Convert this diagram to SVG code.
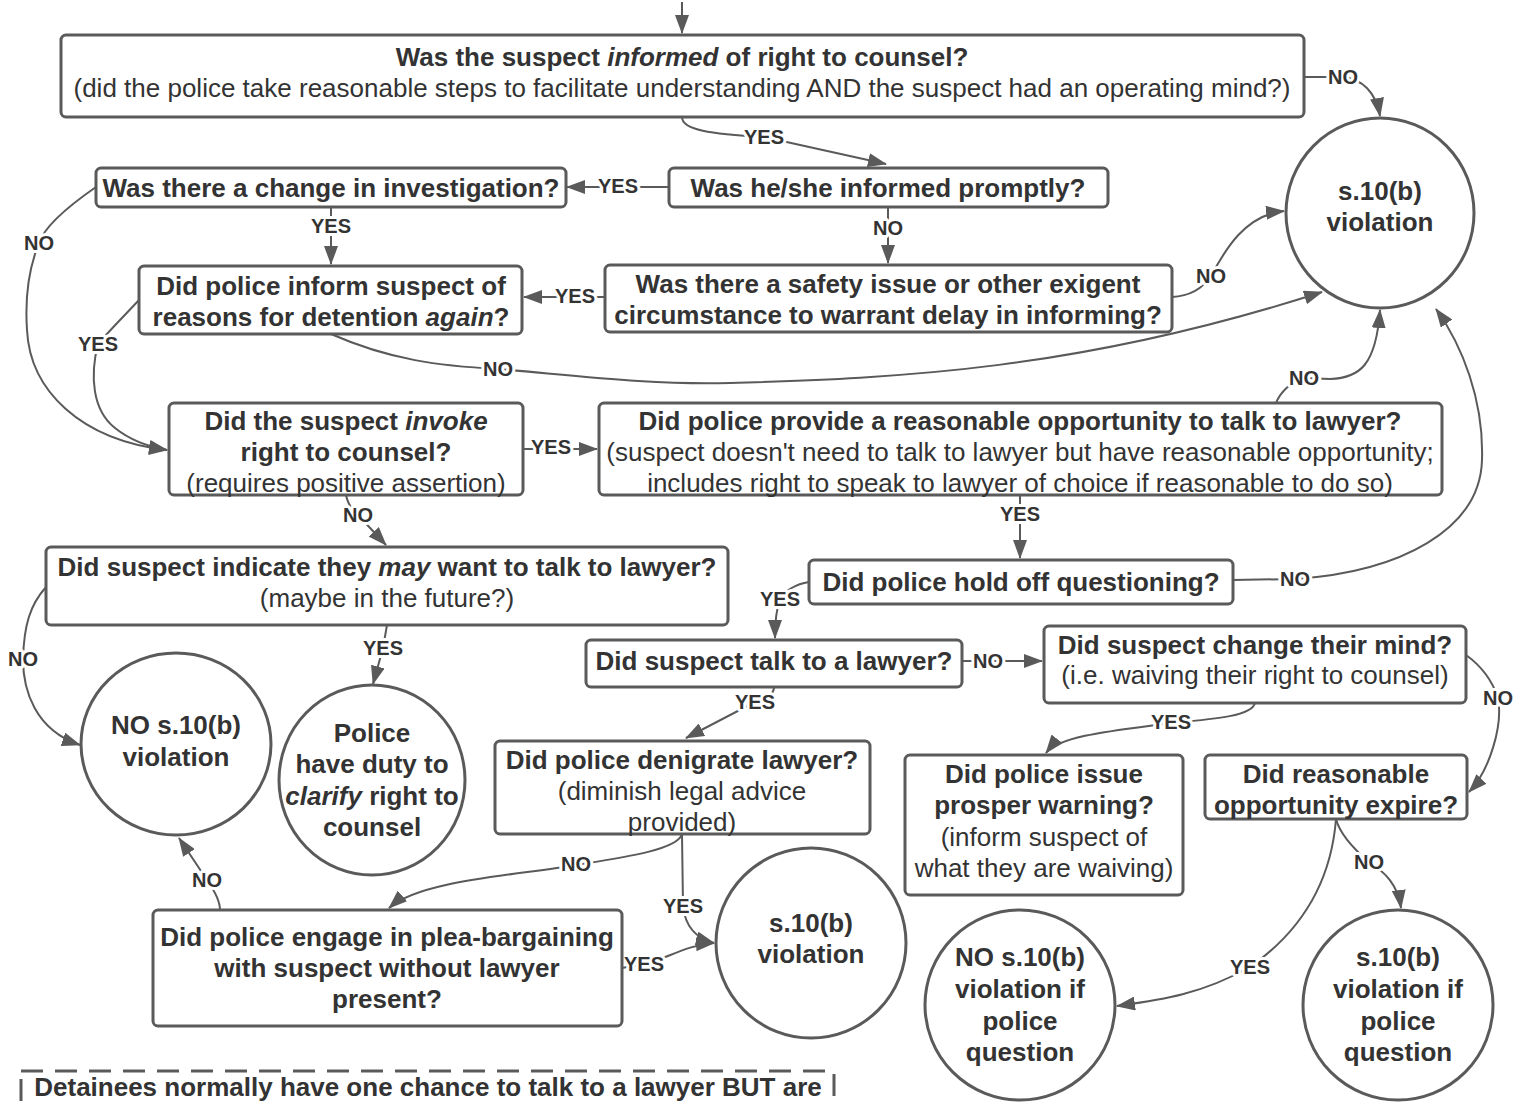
<svg xmlns="http://www.w3.org/2000/svg" width="1523" height="1102" viewBox="0 0 1523 1102">
<defs>
<style>
.n{fill:#fff;stroke:#5a5a5a;stroke-width:3}
.t{font-family:"Liberation Sans",Arial,sans-serif;font-size:26px;font-weight:bold;fill:#333;text-anchor:middle}
.r{font-weight:normal}
.c{fill:none;stroke:#5a5a5a;stroke-width:2}
.l{font-family:"Liberation Sans",Arial,sans-serif;font-size:20px;font-weight:bold;fill:#333;text-anchor:middle;stroke:#fff;stroke-width:6;paint-order:stroke;stroke-linejoin:round}
</style>
<marker id="a" markerUnits="userSpaceOnUse" markerWidth="19" markerHeight="14" refX="18" refY="7" orient="auto"><path d="M0,0 L19,7 L0,14 z" fill="#5a5a5a"/></marker>
</defs>
<rect width="1523" height="1102" fill="#fff"/>
<g id="connectors">
<path class="c" marker-end="url(#a)" d="M682,2 L682,33"/>
<path class="c" marker-end="url(#a)" d="M1304,77 L1343,77 C1362,79 1376,92 1380,116"/>
<path class="c" marker-end="url(#a)" d="M682,117 C682,130 710,134 764,137 L886,164"/>
<path class="c" marker-end="url(#a)" d="M669,187 L567,187"/>
<path class="c" marker-end="url(#a)" d="M888,207 L888,263"/>
<path class="c" marker-end="url(#a)" d="M331,207 L331,264"/>
<path class="c" marker-end="url(#a)" d="M96,187 C70,205 45,225 39,243 C28,270 25,300 27,330 C30,390 80,440 167,450"/>
<path class="c" marker-end="url(#a)" d="M139,300 C125,315 110,330 98,344 C90,375 92,410 115,428 C130,440 150,447 167,450"/>
<path class="c" marker-end="url(#a)" d="M605,297 L524,297"/>
<path class="c" marker-end="url(#a)" d="M1172,297 C1192,296 1203,288 1211,276 C1225,250 1245,215 1284,211"/>
<path class="c" marker-end="url(#a)" d="M331,334 C390,360 440,366 498,369 C580,376 650,385 730,383 C900,378 1080,370 1322,292"/>
<path class="c" marker-end="url(#a)" d="M523,449 L597,449"/>
<path class="c" marker-end="url(#a)" d="M346,495 C348,505 352,510 358,515 L386,545"/>
<path class="c" marker-end="url(#a)" d="M1276,403 C1280,393 1290,382 1304,378 L1330,379 C1360,378 1376,365 1380,310"/>
<path class="c" marker-end="url(#a)" d="M1020,495 L1020,558"/>
<path class="c" marker-end="url(#a)" d="M1233,580 L1295,579 C1400,572 1480,530 1482,460 C1484,400 1462,345 1436,309"/>
<path class="c" marker-end="url(#a)" d="M809,582 C796,584 784,591 780,599 C776,610 775,620 775,638"/>
<path class="c" marker-end="url(#a)" d="M962,661 L1042,661"/>
<path class="c" marker-end="url(#a)" d="M774,687 C774,695 765,700 755,702 L686,738"/>
<path class="c" marker-end="url(#a)" d="M1255,703 C1252,716 1215,719 1171,723 C1120,730 1060,735 1046,753"/>
<path class="c" marker-end="url(#a)" d="M1466,655 C1480,665 1492,680 1498,698 C1503,725 1490,770 1469,792"/>
<path class="c" marker-end="url(#a)" d="M682,834 C678,850 620,858 576,865 C520,875 420,880 389,908"/>
<path class="c" marker-end="url(#a)" d="M682,834 L683,906 C685,925 695,938 714,943"/>
<path class="c" marker-end="url(#a)" d="M622,968 L644,964 C665,960 685,945 714,943"/>
<path class="c" marker-end="url(#a)" d="M220,910 C220,900 214,890 207,880 L179,838"/>
<path class="c" marker-end="url(#a)" d="M46,587 C30,605 24,625 23,659 C23,690 35,730 80,745"/>
<path class="c" marker-end="url(#a)" d="M387,625 L383,648 L373,684"/>
<path class="c" marker-end="url(#a)" d="M1336,819 C1340,835 1355,850 1369,862 C1385,872 1398,885 1401,908"/>
<path class="c" marker-end="url(#a)" d="M1336,819 C1332,870 1310,925 1250,967 C1200,995 1160,1000 1117,1006"/>
<text class="l" x="1343" y="84">NO</text>
<text class="l" x="764" y="144">YES</text>
<text class="l" x="618" y="193">YES</text>
<text class="l" x="888" y="235">NO</text>
<text class="l" x="331" y="233">YES</text>
<text class="l" x="39" y="250">NO</text>
<text class="l" x="98" y="351">YES</text>
<text class="l" x="575" y="303">YES</text>
<text class="l" x="1211" y="283">NO</text>
<text class="l" x="498" y="376">NO</text>
<text class="l" x="551" y="454">YES</text>
<text class="l" x="358" y="522">NO</text>
<text class="l" x="1304" y="385">NO</text>
<text class="l" x="1020" y="521">YES</text>
<text class="l" x="1295" y="586">NO</text>
<text class="l" x="780" y="606">YES</text>
<text class="l" x="988" y="668">NO</text>
<text class="l" x="755" y="709">YES</text>
<text class="l" x="1171" y="729">YES</text>
<text class="l" x="1498" y="705">NO</text>
<text class="l" x="576" y="871">NO</text>
<text class="l" x="683" y="913">YES</text>
<text class="l" x="644" y="971">YES</text>
<text class="l" x="207" y="887">NO</text>
<text class="l" x="23" y="666">NO</text>
<text class="l" x="383" y="655">YES</text>
<text class="l" x="1369" y="869">NO</text>
<text class="l" x="1250" y="974">YES</text>
</g>
<g id="n1"><rect class="n" x="61" y="35" width="1243" height="82" rx="5"/>
<text class="t" x="682" y="66">Was the suspect <tspan font-style="italic">informed</tspan> of right to counsel?</text>
<text class="t r" x="682" y="97">(did the police take reasonable steps to facilitate understanding AND the suspect had an operating mind?)</text></g>
<g id="n2"><rect class="n" x="669" y="168" width="439" height="39" rx="5"/><text class="t" x="888" y="197">Was he/she informed promptly?</text></g>
<g id="n3"><rect class="n" x="96" y="168" width="470" height="39" rx="5"/><text class="t" x="331" y="197">Was there a change in investigation?</text></g>
<g id="n4"><rect class="n" x="139" y="266" width="383" height="68" rx="5"/>
<text class="t" x="331" y="295">Did police inform suspect of</text>
<text class="t" x="331" y="326">reasons for detention <tspan font-style="italic">again</tspan>?</text></g>
<g id="n5"><rect class="n" x="605" y="265" width="567" height="67" rx="5"/>
<text class="t" x="888" y="293">Was there a safety issue or other exigent</text>
<text class="t" x="888" y="324">circumstance to warrant delay in informing?</text></g>
<g id="n6"><rect class="n" x="169" y="403" width="354" height="92" rx="5"/>
<text class="t" x="346" y="430">Did the suspect <tspan font-style="italic">invoke</tspan></text>
<text class="t" x="346" y="461">right to counsel?</text>
<text class="t r" x="346" y="492">(requires positive assertion)</text></g>
<g id="n7"><rect class="n" x="599" y="403" width="843" height="92" rx="5"/>
<text class="t" x="1020" y="430">Did police provide a reasonable opportunity to talk to lawyer?</text>
<text class="t r" x="1020" y="461">(suspect doesn't need to talk to lawyer but have reasonable opportunity;</text>
<text class="t r" x="1020" y="492">includes right to speak to lawyer of choice if reasonable to do so)</text></g>
<g id="n8"><rect class="n" x="46" y="547" width="682" height="78" rx="5"/>
<text class="t" x="387" y="576">Did suspect indicate they <tspan font-style="italic">may</tspan> want to talk to lawyer?</text>
<text class="t r" x="387" y="607">(maybe in the future?)</text></g>
<g id="n9"><rect class="n" x="809" y="560" width="424" height="44" rx="5"/><text class="t" x="1021" y="591">Did police hold off questioning?</text></g>
<g id="n10"><rect class="n" x="586" y="640" width="376" height="47" rx="5"/><text class="t" x="774" y="670">Did suspect talk to a lawyer?</text></g>
<g id="n11"><rect class="n" x="1044" y="626" width="422" height="77" rx="5"/>
<text class="t" x="1255" y="654">Did suspect change their mind?</text>
<text class="t r" x="1255" y="684">(i.e. waiving their right to counsel)</text></g>
<g id="n12"><rect class="n" x="495" y="741" width="375" height="93" rx="5"/>
<text class="t" x="682" y="769">Did police denigrate lawyer?</text>
<text class="t r" x="682" y="800">(diminish legal advice</text>
<text class="t r" x="682" y="831">provided)</text></g>
<g id="n13"><rect class="n" x="905" y="755" width="278" height="140" rx="5"/>
<text class="t" x="1044" y="783">Did police issue</text>
<text class="t" x="1044" y="814">prosper warning?</text>
<text class="t r" x="1044" y="846">(inform suspect of</text>
<text class="t r" x="1044" y="877">what they are waiving)</text></g>
<g id="n14"><rect class="n" x="1205" y="755" width="262" height="64" rx="5"/>
<text class="t" x="1336" y="783">Did reasonable</text>
<text class="t" x="1336" y="814">opportunity expire?</text></g>
<g id="n15"><rect class="n" x="153" y="910" width="469" height="116" rx="5"/>
<text class="t" x="387" y="946">Did police engage in plea-bargaining</text>
<text class="t" x="387" y="977">with suspect without lawyer</text>
<text class="t" x="387" y="1008">present?</text></g>
<g id="cA"><ellipse class="n" cx="1380" cy="213" rx="94" ry="95"/>
<text class="t" x="1380" y="200">s.10(b)</text><text class="t" x="1380" y="231">violation</text></g>
<g id="cB"><ellipse class="n" cx="176" cy="744" rx="95" ry="91"/>
<text class="t" x="176" y="734">NO s.10(b)</text><text class="t" x="176" y="766">violation</text></g>
<g id="cC"><ellipse class="n" cx="372" cy="780" rx="93" ry="95"/>
<text class="t" x="372" y="742">Police</text><text class="t" x="372" y="773">have duty to</text>
<text class="t" x="372" y="805"><tspan font-style="italic">clarify</tspan> right to</text><text class="t" x="372" y="836">counsel</text></g>
<g id="cD"><ellipse class="n" cx="811" cy="943" rx="95" ry="95"/>
<text class="t" x="811" y="932">s.10(b)</text><text class="t" x="811" y="963">violation</text></g>
<g id="cE"><ellipse class="n" cx="1020" cy="1005" rx="95" ry="95"/>
<text class="t" x="1020" y="966">NO s.10(b)</text><text class="t" x="1020" y="998">violation if</text>
<text class="t" x="1020" y="1030">police</text><text class="t" x="1020" y="1061">question</text></g>
<g id="cF"><ellipse class="n" cx="1398" cy="1005" rx="95" ry="95"/>
<text class="t" x="1398" y="966">s.10(b)</text><text class="t" x="1398" y="998">violation if</text>
<text class="t" x="1398" y="1030">police</text><text class="t" x="1398" y="1061">question</text></g>
<g id="note"><rect x="21" y="1071" width="813" height="120" fill="none" stroke="#5a5a5a" stroke-width="3" stroke-dasharray="22,12"/>
<text class="t" x="428" y="1096">Detainees normally have one chance to talk to a lawyer BUT are</text></g>
</svg>
